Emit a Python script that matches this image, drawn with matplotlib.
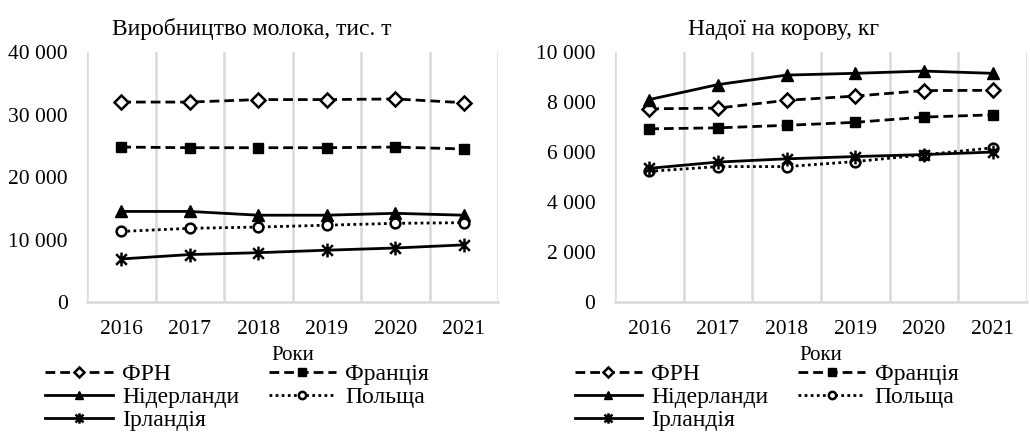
import matplotlib.pyplot as plt
import numpy as np
from matplotlib.path import Path

FONT = ["Liberation Serif", "DejaVu Serif"]
plt.rcParams["font.family"] = FONT

years = ["2016", "2017", "2018", "2019", "2020", "2021"]
countries = ["ФРН", "Франція", "Нідерланди", "Польща", "Ірландія"]

# Виробництво молока, тис. т
milk_frn = [32000, 32000, 32400, 32400, 32500, 31900]
milk_fra = [24800, 24700, 24700, 24700, 24800, 24500]
milk_ned = [14500, 14500, 13900, 13900, 14200, 13900]
milk_pol = [11300, 11800, 12000, 12300, 12600, 12700]
milk_irl = [6900, 7600, 7900, 8300, 8650, 9150]

# Надої на корову, кг
yield_frn = [7730, 7760, 8070, 8240, 8460, 8470]
yield_fra = [6930, 6970, 7070, 7190, 7400, 7490]
yield_ned = [8100, 8700, 9080, 9150, 9240, 9150]
yield_pol = [5230, 5420, 5420, 5620, 5890, 6170]
yield_irl = [5350, 5600, 5730, 5820, 5900, 6000]

star = Path([(-1, -1), (1, 1), (-1, 1), (1, -1), (0, -1.3), (0, 1.3)],
            [Path.MOVETO, Path.LINETO, Path.MOVETO, Path.LINETO, Path.MOVETO, Path.LINETO])

styles = {
    "ФРН": dict(ls=(0, (3.5, 1.8)), marker="D", ms=7, mfc="white", mew=1.8),
    "Франція": dict(ls=(0, (3.5, 1.8)), marker="s", ms=7, mfc="black", mew=1),
    "Нідерланди": dict(ls="-", marker="^", ms=8, mfc="black", mew=1),
    "Польща": dict(ls=(0, (1, 1.2)), marker="o", ms=7, mfc="white", mew=1.8),
    "Ірландія": dict(ls="-", marker=star, ms=10, mfc="none", mew=1.8),
}

GRAY = "#d9d9d9"


def draw(ax, series, ymax, step, title, title_x):
    x = np.arange(len(years))
    lines = {}
    for name, vals in zip(countries, series):
        lines[name], = ax.plot(x, vals, color="black", lw=2, mec="black", label=name,
                               **styles[name])
    ax.set_xlim(-0.5, len(years) - 0.5)
    ax.set_ylim(0, ymax)
    ax.set_xticks(x)
    ax.set_xticklabels(years)
    yt = np.arange(0, ymax + 1, step)
    ax.set_yticks(yt)
    ax.set_yticklabels([f"{v:,}".replace(",", " ") for v in yt])
    ax.set_xticks(np.arange(-0.5, len(years)), minor=True)
    ax.grid(which="minor", axis="x", color=GRAY, lw=1.8)
    ax.tick_params(which="both", length=0, labelsize=15.5)
    ax.tick_params(axis="y", pad=14)
    ax.tick_params(axis="x", pad=13)
    for s in ["top", "right", "left"]:
        ax.spines[s].set_visible(False)
    ax.spines["bottom"].set_color(GRAY)
    ax.spines["bottom"].set_linewidth(1.8)
    ax.set_title(title, fontsize=17, pad=12, x=title_x)
    ax.set_xlabel("Роки", fontsize=15, labelpad=5)
    return lines


fig = plt.figure(figsize=(10.3, 4.34), dpi=100)
ax1 = fig.add_axes([0.0845, 0.304, 0.399, 0.576])
ax2 = fig.add_axes([0.597, 0.304, 0.400, 0.576])

l1 = draw(ax1, [milk_frn, milk_fra, milk_ned, milk_pol, milk_irl], 40000, 10000,
          "Виробництво молока, тис. т", 0.40)
l2 = draw(ax2, [yield_frn, yield_fra, yield_ned, yield_pol, yield_irl], 10000, 2000,
          "Надої на корову, кг", 0.41)

# legend is filled row by row in the reference
order = ["ФРН", "Нідерланди", "Ірландія", "Франція", "Польща"]
for ax, lines, lx in [(ax1, l1, 0.044), (ax2, l2, 0.558)]:
    ax.legend([lines[n] for n in order], order,
              loc="upper left", bbox_to_anchor=(lx, 0.163), bbox_transform=fig.transFigure,
              ncol=2, frameon=False, prop={"family": FONT, "size": 17},
              handlelength=2.85, handletextpad=0.4,
              columnspacing=1.25, labelspacing=0.07, borderpad=0, borderaxespad=0,
              markerscale=0.75)

fig.savefig("out.png", dpi=100)
